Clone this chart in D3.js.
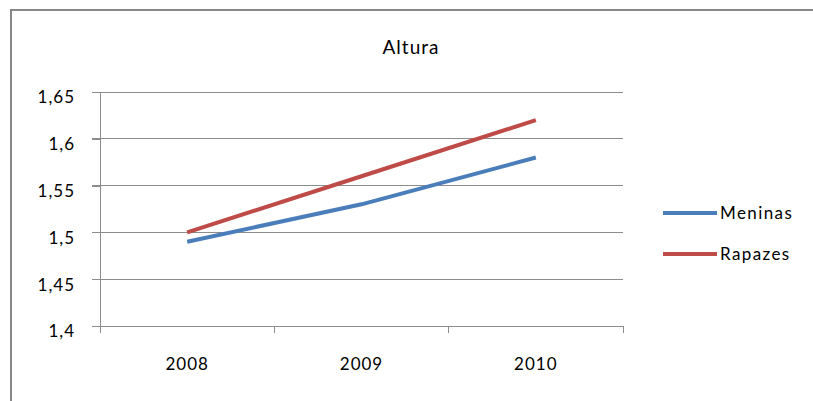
<!DOCTYPE html>
<html><head><meta charset="utf-8">
<script src="https://cdn.jsdelivr.net/npm/d3@7"></script>
<style>body{margin:0;background:#fff}svg{display:block}text{font-family:Lato,"Open Sans",sans-serif}</style>
</head><body><svg id="c" width="813" height="401"></svg>
<script>
const categories = ["2008", "2009", "2010"];
const meninas = [1.49, 1.53, 1.58];
const rapazes = [1.50, 1.56, 1.62];
const seriesNames = ["Meninas", "Rapazes"];
const yTicks = [1.4, 1.45, 1.5, 1.55, 1.6, 1.65];
const title = "Altura";

const svg = d3.select("#c");
const colors = ["#4A7EBB", "#BE4B48"];
const fmt = v => String(+v.toFixed(2)).replace(".", ",");

// frame
svg.append("rect").attr("x", 11).attr("y", 10).attr("width", 830).attr("height", 430)
  .attr("fill", "none").attr("stroke", "#878787").attr("stroke-width", 2);

const L = 100, R = 623, T = 92, B = 326;
const x = d3.scaleBand().domain(categories).range([L, R]);
const y = d3.scaleLinear().domain([1.4, 1.65]).range([B, T]);

// gridlines
svg.append("g").selectAll("line").data(yTicks).join("line")
  .attr("x1", L - 8).attr("x2", R).attr("y1", d => y(d)).attr("y2", d => y(d))
  .attr("stroke", "#8c8c8c").attr("stroke-width", 1).attr("shape-rendering", "crispEdges");

const yAxis = svg.append("g").attr("transform", `translate(${L},0)`)
  .call(d3.axisLeft(y).tickValues(yTicks).tickFormat(fmt).tickSize(8).tickPadding(17));
yAxis.select(".domain").attr("stroke", "#8c8c8c").attr("shape-rendering", "crispEdges");
yAxis.selectAll(".tick line").attr("stroke", "#8c8c8c").attr("shape-rendering", "crispEdges");
yAxis.selectAll("text").attr("font-size", 17).attr("fill", "#000").attr("dy", "0.64em")
  .attr("letter-spacing", 1);

const xAxis = svg.append("g").attr("transform", `translate(0,${B})`)
  .call(d3.axisBottom(x).tickSize(0).tickPadding(32));
xAxis.select(".domain").attr("stroke", "#8c8c8c").attr("shape-rendering", "crispEdges");
xAxis.selectAll("text").attr("font-size", 17).attr("fill", "#000").attr("letter-spacing", 1);
// category boundary ticks
const bounds = categories.map(c => x(c)).concat([R]);
xAxis.append("g").selectAll("line").data(bounds).join("line")
  .attr("x1", d => d).attr("x2", d => d).attr("y1", 0).attr("y2", 7)
  .attr("stroke", "#8c8c8c").attr("shape-rendering", "crispEdges");

const line = d3.line().x((d, i) => x(categories[i]) + x.bandwidth() / 2).y(d => y(d));
[meninas, rapazes].forEach((s, i) => {
  svg.append("path").datum(s).attr("d", line).attr("fill", "none")
    .attr("stroke", colors[i]).attr("stroke-width", 4);
});

svg.append("text").attr("x", 411).attr("y", 54).attr("text-anchor", "middle")
  .attr("font-size", 19).attr("letter-spacing", 1).attr("fill", "#000").text(title);

const leg = svg.append("g");
seriesNames.forEach((n, i) => {
  const ly = 213 + i * 41;
  leg.append("line").attr("x1", 663).attr("x2", 717).attr("y1", ly).attr("y2", ly)
    .attr("stroke", colors[i]).attr("stroke-width", 4);
  leg.append("text").attr("x", 720).attr("y", ly).attr("dy", "0.36em")
    .attr("font-size", 17).attr("letter-spacing", 1.4).attr("fill", "#000").text(n);
});
</script></body></html>
